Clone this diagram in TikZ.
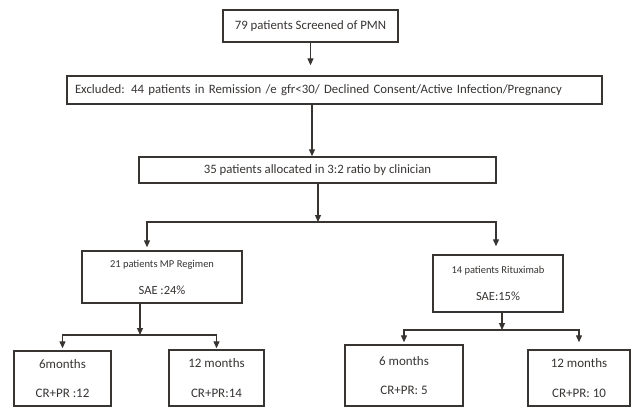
\documentclass[tikz,border=0pt]{standalone}
\usepackage{fontspec}
\setmainfont{Carlito}
\usetikzlibrary{arrows.meta}
\definecolor{inkgrey}{RGB}{55, 52, 50}
\tikzset{
  box/.style={rectangle, draw=inkgrey, line width=1.4pt, text=inkgrey, align=center,
              font=\fontsize{12.8}{15.4}\selectfont},
  armbox/.style={box, font=\fontsize{12.5}{15}\selectfont},
  outbox/.style={box, font=\fontsize{13}{15.6}\selectfont},
  flow/.style={-{Triangle[length=7pt, width=6pt]}, line width=1.2pt, draw=inkgrey},
  fork/.style={{Triangle[length=7pt, width=6pt]}-{Triangle[length=7pt, width=6pt]},
               line width=1.2pt, draw=inkgrey},
}
\newcommand{\armtitle}[1]{{\fontsize{10.5}{12.6}\selectfont #1}}

\begin{document}
\begin{tikzpicture}[x=1pt, y=-1pt]
    \useasboundingbox (0,0) rectangle (635,408);

    % screening, exclusion, allocation
    \node[box, minimum width=175pt, minimum height=32pt] (screen) at (310.5,26)
        {79 patients Screened of PMN};
    \node[box, minimum height=28pt, text width=519pt, align=left, inner xsep=8pt] (excl) at (334.5,90)
        {Excluded: 44 patients in Remission /e gfr<30/ Declined Consent/Active Infection/Pregnancy};
    \node[box, minimum width=357pt, minimum height=26pt] (alloc) at (317.5,170)
        {35 patients allocated in 3:2 ratio by clinician};

    % treatment arms
    \node[armbox, minimum width=160pt, minimum height=52pt] (mp) at (162,277)
        {\armtitle{21 patients MP Regimen}\\[12pt] SAE :24\%};
    \node[armbox, minimum width=130pt, minimum height=57pt] (rtx) at (498,283.5)
        {\armtitle{14 patients Rituximab}\\[12pt] SAE:15\%};

    % outcomes
    \node[outbox, minimum width=97pt, minimum height=55pt] (mp6) at (62.5,378.5)
        {6months\\[14pt] CR+PR :12};
    \node[outbox, minimum width=95pt, minimum height=56pt] (mp12) at (216.5,378)
        {12 months\\[14pt] CR+PR:14};
    \node[outbox, minimum width=118pt, minimum height=61pt] (rtx6) at (404,375.5)
        {6 months\\[13pt] CR+PR: 5};
    \node[outbox, minimum width=102pt, minimum height=56pt] (rtx12) at (579,378)
        {12 months\\[14pt] CR+PR: 10};

    \coordinate (armL) at (147,222);
    \coordinate (armR) at (496,222);
    \coordinate (armtop) at (318,222);
    \coordinate (mpsplit) at (140,335);
    \coordinate (rtxsplit) at (502,330);

    \draw[flow, shorten >=10pt] (screen.south) -- (screen.south |- excl.north);
    \draw[flow] (excl.south -| 312,0) -- (alloc.north -| 312,0);
    \draw[fork, shorten <=3pt, shorten >=8pt] (mp.north -| armL) -- (armL) -- (armR) -- (rtx.north -| armR);
    \draw[flow] (alloc.south -| armtop) -- (armtop);

    \draw[flow] (mp.south -| mpsplit) -- (mpsplit);
    \draw[fork, shorten <=2pt, shorten >=1pt] (mp6.north) -- (mp6.north |- mpsplit) -- (mp12.north |- mpsplit) -- (mp12.north);

    \draw[flow] (rtx.south -| rtxsplit) -- (rtxsplit);
    \draw[fork, shorten <=2pt, shorten >=7pt] (rtx6.north) -- (rtx6.north |- rtxsplit) -- (rtx12.north |- rtxsplit) -- (rtx12.north);
\end{tikzpicture}
\end{document}
